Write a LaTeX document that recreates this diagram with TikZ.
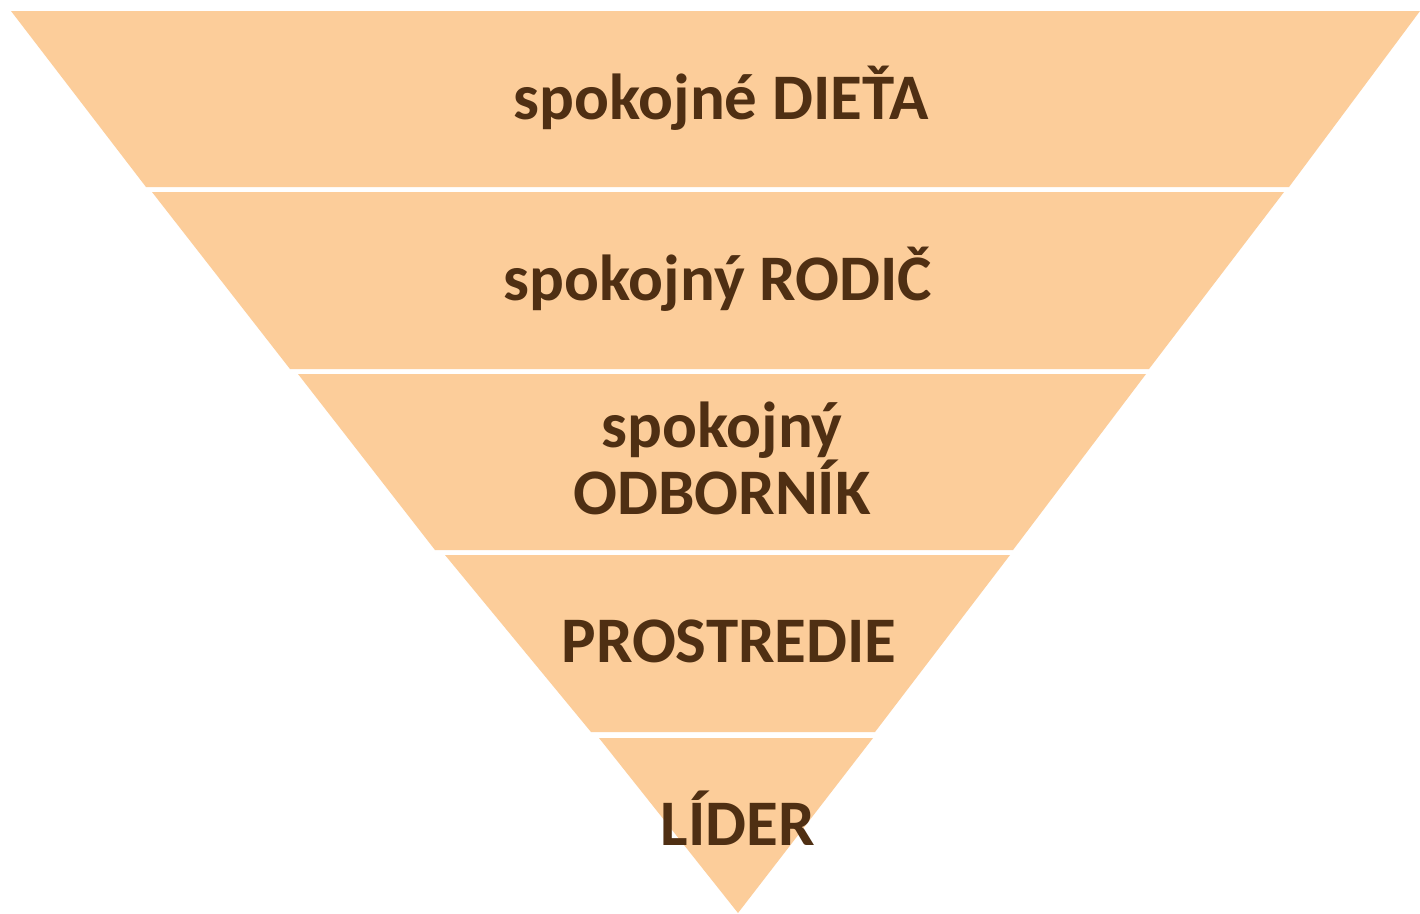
\documentclass[tikz,border=0pt]{standalone}
\usepackage{fontspec}
\setmainfont{Carlito}
\definecolor{bandfill}{HTML}{FCCD9A}
\definecolor{bandtext}{HTML}{4F2F13}
\begin{document}
\begin{tikzpicture}[x=1pt,y=-1pt,
  band/.style={fill=bandfill,draw=none},
  lbl/.style={anchor=base,text=bandtext,font=\bfseries\fontsize{65}{70}\selectfont,inner sep=0pt}]
\useasboundingbox (0,0) rectangle (1420,913);
\fill[white] (0,0) rectangle (1420,913);
\path[band] (11,11) -- (1420,11) -- (1289,187) -- (146,187) -- cycle;
\path[band] (152,192) -- (1284,192) -- (1149,369) -- (290,369) -- cycle;
\path[band] (298,374) -- (1146,374) -- (1013,550) -- (435,550) -- cycle;
\path[band] (445,555) -- (1010,555) -- (875,732) -- (591,732) -- cycle;
\path[band] (599,738) -- (873,738) -- (738,913) -- cycle;
\node[lbl] (t1) at (721,119) {spokojné DIEŤA};
\node[lbl] (t2) at (718,300) {spokojný RODIČ};
\node[lbl] (t3a) at (722,447) {spokojný};
\node[lbl] (t3b) at (722,514) {ODBORNÍK};
\node[lbl] (t4) at (729,662) {PROSTREDIE};
\node[lbl] (t5) at (738,845) {LÍDER};
\end{tikzpicture}
\end{document}
